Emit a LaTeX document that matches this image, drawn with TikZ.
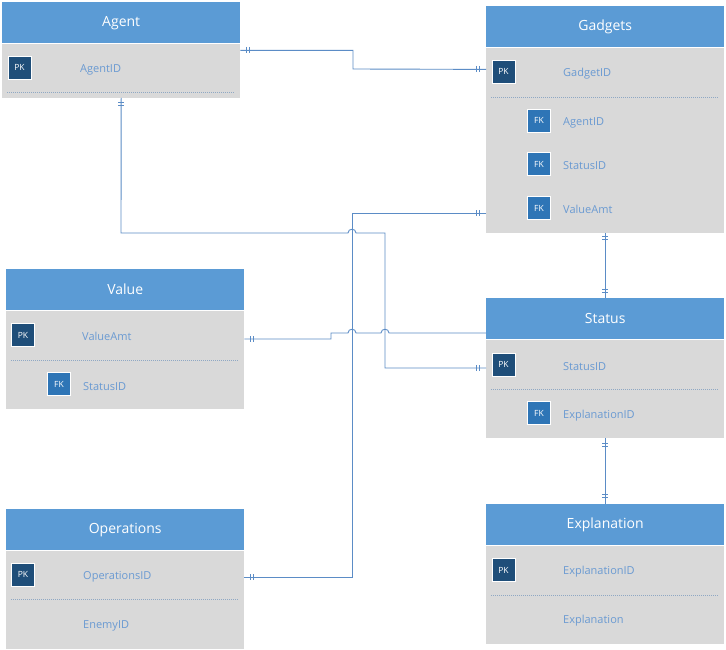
\documentclass[tikz,border=0pt]{standalone}
\usepackage{fontspec}
\setmainfont{Open Sans}
\usetikzlibrary{calc}

\definecolor{hdrblue}{HTML}{5B9BD5}
\definecolor{bodygray}{HTML}{D9D9D9}
\definecolor{fieldtxt}{HTML}{6A9AD2}
\definecolor{pkblue}{HTML}{1F4E79}
\definecolor{fkblue}{HTML}{2E75B6}
\definecolor{linkblue}{HTML}{5B8CC6}
\definecolor{sepline}{HTML}{8FA8C4}

\tikzset{
  hdr/.style={fill=hdrblue, draw=none, anchor=north west, minimum width=238pt,
    minimum height=41pt, inner sep=0pt, text=white, font=\fontsize{14}{16}\selectfont},
  tbody/.style={fill=bodygray, draw=none, anchor=north west, minimum width=238pt, inner sep=0pt},
  pkbox/.style={fill=pkblue, draw=white, line width=0.8pt, minimum size=23pt,
    inner sep=0pt, text=white, font=\fontsize{8.5}{9}\selectfont},
  fkbox/.style={pkbox, fill=fkblue},
  field/.style={anchor=west, inner sep=0pt, yshift=-1.5pt, text=fieldtxt,
    font=\fontsize{11}{13}\selectfont},
  sepl/.style={draw=sepline, line width=0.7pt, dash pattern=on 1pt off 1pt},
  hsep/.style={draw=white, line width=1pt},
  conn/.style={draw=linkblue, line width=0.9pt},
  hmark/.pic={\draw[conn] (-1.5,-3) -- (-1.5,3) (1.5,-3) -- (1.5,3);},
  vmark/.pic={\draw[conn] (-3,-1.5) -- (3,-1.5) (-3,1.5) -- (3,1.5);}
}

\begin{document}
\begin{tikzpicture}[x=1pt,y=-1pt]
\fill[white] (0,0) rectangle (726,650);
\useasboundingbox (0,0) rectangle (726,650);

% ---------- Agent ----------
\node[hdr] (agentH) at (2,2) {Agent};
\node[tbody, minimum height=54pt] (agentB) at (agentH.south west) {};
\draw[hsep] (agentH.south west) -- (agentH.south east);
\node[pkbox] (agentPK) at (19.5,67.5) {PK};
\node[field] (agentF1) at (80,68) {AgentID};
\draw[sepl] (7,92) -- (235,92);

% ---------- Gadgets ----------
\node[hdr] (gadH) at (486,6) {Gadgets};
\node[tbody, minimum height=185pt] (gadB) at (gadH.south west) {};
\draw[hsep] (gadH.south west) -- (gadH.south east);
\node[pkbox] (gadPK) at (503.5,71.5) {PK};
\node[field] (gadF1) at (563,72) {GadgetID};
\draw[sepl] (491,97) -- (719,97);
\node[fkbox] (gadFK1) at (539,120.5) {FK};
\node[field] (gadF2) at (563,121) {AgentID};
\node[fkbox] (gadFK2) at (539,164) {FK};
\node[field] (gadF3) at (563,164) {StatusID};
\node[fkbox] (gadFK3) at (539,208) {FK};
\node[field] (gadF4) at (563,208) {ValueAmt};

% ---------- Value ----------
\node[hdr] (valH) at (6,269) {Value};
\node[tbody, minimum height=98pt] (valB) at (valH.south west) {};
\draw[hsep] (valH.south west) -- (valH.south east);
\node[pkbox] (valPK) at (23,335) {PK};
\node[field] (valF1) at (82,335) {ValueAmt};
\draw[sepl] (11,360) -- (239,360);
\node[fkbox] (valFK1) at (59,384) {FK};
\node[field] (valF2) at (83,385) {StatusID};

% ---------- Operations ----------
\node[hdr] (opsH) at (6,509) {Operations};
\node[tbody, minimum height=98pt] (opsB) at (opsH.south west) {};
\draw[hsep] (opsH.south west) -- (opsH.south east);
\node[pkbox] (opsPK) at (23,574.5) {PK};
\node[field] (opsF1) at (83,575) {OperationsID};
\draw[sepl] (11,599) -- (239,599);
\node[field] (opsF2) at (83,624) {EnemyID};

% ---------- Status ----------
\node[hdr] (statH) at (486,298) {Status};
\node[tbody, minimum height=98pt] (statB) at (statH.south west) {};
\draw[hsep] (statH.south west) -- (statH.south east);
\node[pkbox] (statPK) at (503.5,364.5) {PK};
\node[field] (statF1) at (563,365) {StatusID};
\draw[sepl] (491,389) -- (719,389);
\node[fkbox] (statFK1) at (539,413) {FK};
\node[field] (statF2) at (563,414) {ExplanationID};

% ---------- Explanation ----------
\node[hdr] (explH) at (486,504) {Explanation};
\node[tbody, minimum height=98pt] (explB) at (explH.south west) {};
\draw[hsep] (explH.south west) -- (explH.south east);
\node[pkbox] (explPK) at (503.5,570) {PK};
\node[field] (explF1) at (563,570) {ExplanationID};
\draw[sepl] (491,595) -- (719,595);
\node[field] (explF2) at (563,619) {Explanation};

% ---------- connector end points ----------
\coordinate (agentR) at ($(agentB.north east)+(0,7)$);
\coordinate (gadL1) at ($(gadB.north west)+(0,22)$);
\coordinate (gadL4) at (gadB.west |- 0,213);
\coordinate (statL1) at (statB.west |- 0,368);
\coordinate (statL0) at (statH.west |- 0,333);
\coordinate (valR) at (valB.east |- 0,339);
\coordinate (opsR) at (opsB.east |- 0,577);

% Agent -- Gadgets
\draw[conn] (agentR) -| (353,69) -- (gadL1);
% Agent -- Status
\draw[conn] (agentB.south) -- (121,233) -- (348,233)
  .. controls (348,228) and (356,228) .. (356,233) -- (385,233) -- (385,368) -- (statL1);
% Gadgets -- Operations
\draw[conn] (gadL4) -- (352,213) -- (352,577) -- (opsR);
% Value -- Status
\draw[conn] (valR) -- (331,339) -- (331,333) -- (348,333)
  .. controls (348,328) and (356,328) .. (356,333) -- (381,333)
  .. controls (381,328) and (389,328) .. (389,333) -- (statL0);
% Gadgets -- Status
\draw[conn] (gadB.south) -- (statH.north);
% Status -- Explanation
\draw[conn] (statB.south) -- (explH.north);

% cardinality marks
\pic at (248,50) {hmark};
\pic at (477.5,69) {hmark};
\pic at (121,103.5) {vmark};
\pic at (477.5,368) {hmark};
\pic at (477.5,213) {hmark};
\pic at (252,577) {hmark};
\pic at (252,339) {hmark};
\pic at (605,238) {vmark};
\pic at (605,291) {vmark};
\pic at (605,445) {vmark};
\pic at (605,496) {vmark};
\end{tikzpicture}
\end{document}
